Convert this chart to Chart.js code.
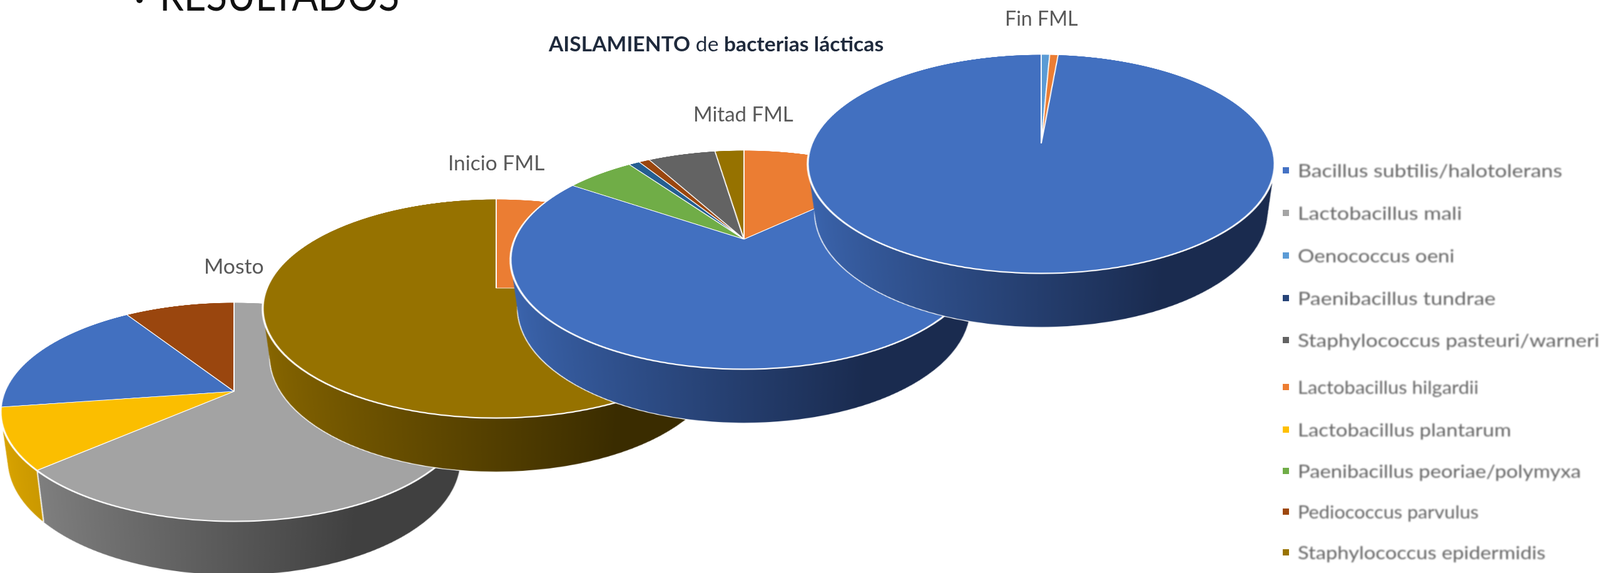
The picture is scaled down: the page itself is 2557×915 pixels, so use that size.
<!DOCTYPE html>
<html lang="es">
<head>
<meta charset="utf-8">
<title>Aislamiento de bacterias lácticas</title>
<script src="https://cdn.jsdelivr.net/npm/chart.js@4"></script>
<style>
    html, body { margin: 0; padding: 0; background: #fff; }
    #stage { position: relative; width: 2557px; height: 915px; overflow: hidden; background: #fff; }
    #stage canvas { position: absolute; transform-origin: 50% 50%; }
    .txt { position: absolute; white-space: nowrap; font-family: Lato, "Open Sans", sans-serif; transform-origin: 0 50%; line-height: 1; }
    .pieLabel { font-size: 33px; color: #595959; }
    .legendText { font-size: 29px; color: #666666; filter: blur(0.8px); }
    .swatch { position: absolute; width: 10px; height: 10px; }
    .dot { position: absolute; left: 218px; top: -5px; width: 10px; height: 10px; border-radius: 50%; background: #111; }
</style>
</head>
<body>
<div id="stage"><div class="dot"></div></div>
<script>
// Data (share of each pie, clockwise from the top)
const speciesNames = [
    'Bacillus subtilis/halotolerans', 'Lactobacillus mali', 'Oenococcus oeni', 'Paenibacillus tundrae',
    'Staphylococcus pasteuri/warneri', 'Lactobacillus hilgardii', 'Lactobacillus plantarum',
    'Paenibacillus peoriae/polymyxa', 'Pediococcus parvulus', 'Staphylococcus epidermidis'
];
const pieNames = ['Mosto', 'Inicio FML', 'Mitad FML', 'Fin FML'];

const mostoSpecies = ['Lactobacillus mali', 'Lactobacillus plantarum', 'Bacillus subtilis/halotolerans', 'Pediococcus parvulus'];
const mostoValues = [63.6, 9.1, 18.2, 9.1];

const inicioSpecies = ['Lactobacillus hilgardii', 'Staphylococcus epidermidis'];
const inicioValues = [25, 75];

const mitadSpecies = ['Lactobacillus hilgardii', 'Bacillus subtilis/halotolerans', 'Paenibacillus peoriae/polymyxa',
    'Paenibacillus tundrae', 'Pediococcus parvulus', 'Staphylococcus pasteuri/warneri', 'Staphylococcus epidermidis'];
const mitadValues = [13, 71.5, 5.7, 0.9, 0.9, 5.6, 2.4];

const finSpecies = ['Oenococcus oeni', 'Lactobacillus hilgardii', 'Bacillus subtilis/halotolerans'];
const finValues = [0.7, 0.7, 98.6];

// Colours per species: top face, then left and right end of the side wall
const speciesColors = {
    'Bacillus subtilis/halotolerans': ['#4270C0', '#3c66b0', '#1a2b4f'],
    'Lactobacillus mali': ['#A3A3A3', '#8c8c8c', '#404040'],
    'Oenococcus oeni': ['#5B9BD5', '#4a86bd', '#24415c'],
    'Paenibacillus tundrae': ['#255E91', '#1f4f7a', '#0f2a42'],
    'Staphylococcus pasteuri/warneri': ['#636363', '#555555', '#2a2a2a'],
    'Lactobacillus hilgardii': ['#EB7D33', '#cf6a26', '#6b3410'],
    'Lactobacillus plantarum': ['#FBBE00', '#dba500', '#7a5c00'],
    'Paenibacillus peoriae/polymyxa': ['#70AD47', '#5f943b', '#30501c'],
    'Pediococcus parvulus': ['#9A460E', '#863d0c', '#451f05'],
    'Staphylococcus epidermidis': ['#967200', '#8a6800', '#3a2c00']
};
const legendColors = ['#4472C4', '#A5A5A5', '#5B9BD5', '#264478', '#636363', '#ED7D31', '#FFC000', '#70AD47', '#9E480E', '#997300'];

// Layout of the picture
const CANVAS_SIZE = 1040;
const RADIUS = 366;
const TILT = 'perspective(1738px) rotateX(62.6deg)';
const WALL_SHIFT = 153;   // how far the underside of the pie moves on the canvas
const WALL_SHRINK = 0.105; // the underside looks a bit narrower
const WALL_LAYERS = 170;
const pieCenters = [[373.5, 624.5], [792.5, 460], [1189, 381.5], [1663.5, 228.5]];

const stage = document.getElementById('stage');

// Draws the thick edge of the pie under the top face
const sideWallPlugin = {
    id: 'sideWall',
    beforeDatasetsDraw(chart) {
        const ctx = chart.ctx;
        const arcs = chart.getDatasetMeta(0).data;
        const species = chart.data.datasets[0].species;
        const cx = arcs[0].x, cy = arcs[0].y;

        const fills = species.map(name => {
            const c = speciesColors[name];
            const grad = ctx.createLinearGradient(cx - RADIUS, 0, cx + RADIUS * 0.45, 0);
            grad.addColorStop(0, c[1]);
            grad.addColorStop(1, c[2]);
            return grad;
        });

        const drawLayer = (t, border) => {
            ctx.save();
            const s = 1 - WALL_SHRINK * t;
            ctx.translate(cx, cy + WALL_SHIFT * t);
            ctx.scale(s, s);
            ctx.translate(-cx, -cy);
            arcs.forEach((arc, i) => {
                const saved = arc.options;
                arc.options = Object.assign({}, saved, {
                    backgroundColor: fills[i],
                    borderColor: '#ffffff',
                    borderWidth: border
                });
                arc.draw(ctx);
                arc.options = saved;
            });
            ctx.restore();
        };

        drawLayer(1, 3);
        for (let n = WALL_LAYERS; n >= 0; n--) {
            drawLayer(n / WALL_LAYERS, 0);
        }

        // white seam where two slices meet on the visible side
        ctx.strokeStyle = '#ffffff';
        ctx.lineWidth = 1.5;
        arcs.forEach(arc => {
            const a = arc.endAngle;
            if (Math.sin(a) <= 0.3) return;
            const s = 1 - WALL_SHRINK;
            ctx.beginPath();
            ctx.moveTo(cx + RADIUS * Math.cos(a), cy + RADIUS * Math.sin(a));
            ctx.lineTo(cx + s * RADIUS * Math.cos(a), cy + WALL_SHIFT + s * RADIUS * Math.sin(a));
            ctx.stroke();
        });

        // wider white rim, the normal slice drawing then covers the inner half of it
        drawLayer(0, 4);
    }
};

function createPie(species, values, center) {
    const canvas = document.createElement('canvas');
    canvas.width = CANVAS_SIZE;
    canvas.height = CANVAS_SIZE;
    stage.appendChild(canvas);

    new Chart(canvas.getContext('2d'), {
        type: 'pie',
        data: {
            labels: species,
            datasets: [{
                species: species,
                data: values,
                backgroundColor: species.map(name => speciesColors[name][0]),
                borderColor: '#ffffff',
                borderWidth: 2,
                radius: RADIUS
            }]
        },
        options: {
            responsive: false,
            animation: false,
            devicePixelRatio: 2,
            plugins: { legend: { display: false }, tooltip: { enabled: false } }
        },
        plugins: [sideWallPlugin]
    });

    // Chart.js writes the canvas size, the position has to go on afterwards
    canvas.style.left = (center[0] - CANVAS_SIZE / 2) + 'px';
    canvas.style.top = (center[1] - CANVAS_SIZE / 2) + 'px';
    canvas.style.transform = TILT;
}

// Text is placed by its left edge and squeezed to the width it has in the picture
function addText(html, cls, x, midY, width, fontSize) {
    const el = document.createElement('div');
    el.className = 'txt ' + cls;
    if (fontSize) el.style.fontSize = fontSize + 'px';
    el.innerHTML = html;
    stage.appendChild(el);
    el.style.left = x + 'px';
    el.style.top = (midY - el.offsetHeight / 2) + 'px';
    el.style.transform = 'scaleX(' + (width / el.offsetWidth) + ')';
    return el;
}

createPie(mostoSpecies, mostoValues, pieCenters[0]);
createPie(inicioSpecies, inicioValues, pieCenters[1]);
createPie(mitadSpecies, mitadValues, pieCenters[2]);
createPie(finSpecies, finValues, pieCenters[3]);

// Slide heading, cut off by the top of the picture
const heading = addText('RESULTADOS', '', 255, -9, 383, 70);
heading.style.color = '#111';
heading.style.top = '-45px';

const title = addText('<b>AISLAMIENTO</b> de <b>bacterias lácticas</b>', '', 877, 70, 535, 32);
title.style.color = '#1f2a3c';

const pieLabelX = [326, 716, 1108, 1606];
const pieLabelY = [424, 259, 181, 28];
const pieLabelW = [96, 154, 160, 117];
pieNames.forEach((name, i) => addText(name, 'pieLabel', pieLabelX[i], pieLabelY[i], pieLabelW[i]));

const legendY = [272, 340, 408, 476, 543, 618, 686, 752, 817, 882];
const legendW = [423, 262, 250, 316, 482, 289, 341, 452, 289, 396];
speciesNames.forEach((name, i) => {
    const sw = document.createElement('div');
    sw.className = 'swatch';
    sw.style.left = '2050px';
    sw.style.top = (legendY[i] - 5) + 'px';
    sw.style.background = legendColors[i];
    stage.appendChild(sw);
    addText(name, 'legendText', 2074, legendY[i] - 1, legendW[i]);
});
</script>
</body>
</html>
